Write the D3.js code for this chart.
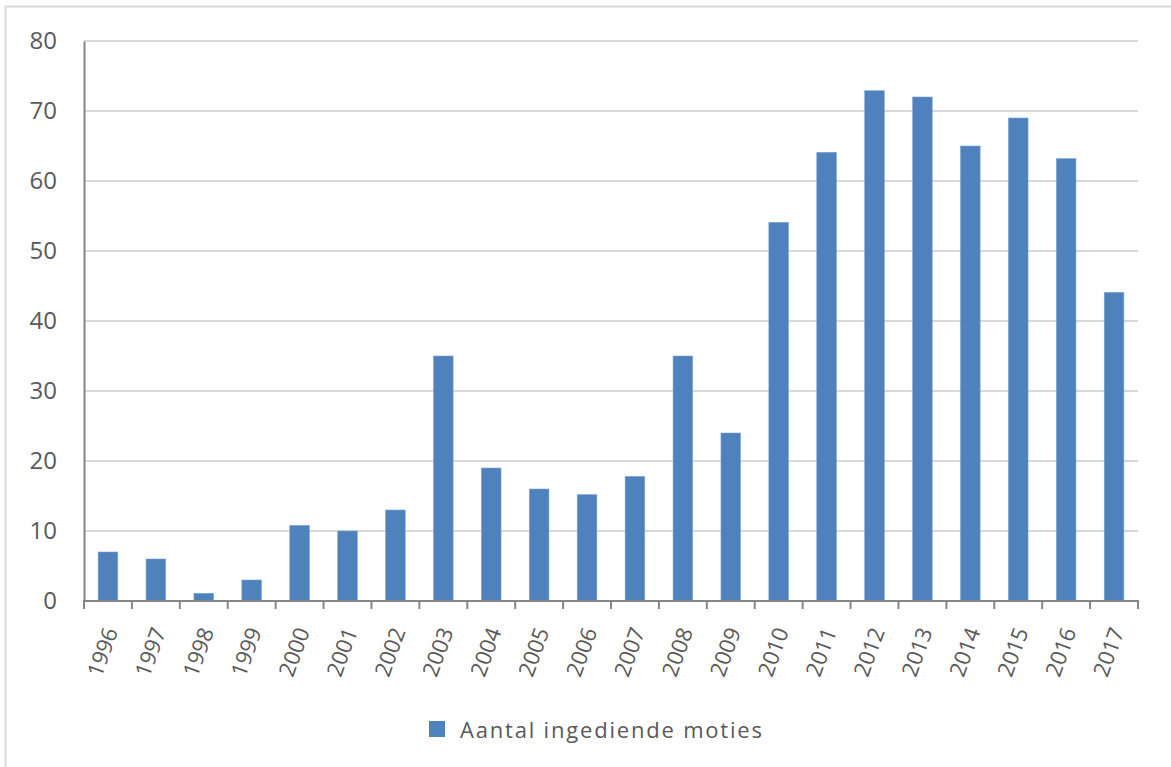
<!DOCTYPE html>
<html><head><meta charset="utf-8">
<script src="https://cdn.jsdelivr.net/npm/d3@7"></script>
<style>
html,body{margin:0;padding:0;background:#fff;}
svg{display:block;}
text{font-family:"Open Sans","Liberation Sans",sans-serif;fill:#595959;}
</style></head>
<body><svg id="c" width="1171" height="767"></svg>
<script>
const years = ["1996","1997","1998","1999","2000","2001","2002","2003","2004","2005","2006","2007","2008","2009","2010","2011","2012","2013","2014","2015","2016","2017"];
const moties = [7,6,1.1,3,10.8,10,13,35,19,16,15.2,17.8,35,24,54.1,64.1,72.9,72,65,69,63.2,44.1];
const yTicks = [0,10,20,30,40,50,60,70,80];
const seriesName = "Aantal ingediende moties";

const svg = d3.select("#c");
const W = 1171, H = 767;
// outer chart border
svg.append("rect").attr("x",5.5).attr("y",6.5).attr("width",W+10).attr("height",H+10)
  .attr("fill","none").attr("stroke","#d9d9d9").attr("stroke-width",2);

const x = d3.scaleBand().domain(years).range([84,1138]).paddingInner(0.59).paddingOuter(0.295);
const y = d3.scaleLinear().domain([0,80]).range([601,41]);

// gridlines
svg.append("g").selectAll("line").data(yTicks.filter(d=>d>0)).join("line")
  .attr("x1",84).attr("x2",1138).attr("y1",d=>y(d)).attr("y2",d=>y(d))
  .attr("stroke","#d9d9d9").attr("stroke-width",2);

// bars
svg.append("g").selectAll("rect").data(years).join("rect")
  .attr("x",d=>x(d)).attr("width",x.bandwidth())
  .attr("y",(d,i)=>y(moties[i])).attr("height",(d,i)=>y(0)-y(moties[i]))
  .attr("fill","#4f81bd").attr("stroke","#7ea6d6").attr("stroke-width",0.6);

// y axis
const yAxis = svg.append("g").attr("transform","translate(84,0)")
  .call(d3.axisLeft(y).tickValues(yTicks).tickSize(0).tickPadding(27));
yAxis.select(".domain").attr("stroke","#868686").attr("stroke-width",2);
yAxis.selectAll("text").attr("font-size",24).attr("fill","#595959")
  .style("font-family","'Open Sans','Liberation Sans',sans-serif");

// x axis line + ticks at band boundaries
const step = x.step();
const xg = svg.append("g");
xg.append("line").attr("x1",84).attr("x2",1138).attr("y1",601).attr("y2",601)
  .attr("stroke","#868686").attr("stroke-width",2);
const boundaries = years.map(d=>x(d)-x.step()*x.paddingInner()/2).concat([1138]);
xg.selectAll("line.t").data(boundaries).join("line").attr("class","t")
  .attr("x1",d=>d).attr("x2",d=>d).attr("y1",600).attr("y2",609)
  .attr("stroke","#868686").attr("stroke-width",2);
xg.selectAll("text").data(years).join("text")
  .attr("transform",d=>`translate(${x(d)+x.bandwidth()/2+2},628) rotate(-70)`)
  .attr("text-anchor","end").attr("dominant-baseline","central")
  .attr("font-size",22).text(d=>d);

// legend
const lg = svg.append("g");
lg.append("rect").attr("x",429).attr("y",721).attr("width",16).attr("height",16).attr("fill","#4f81bd");
lg.append("text").attr("x",460).attr("y",729).attr("dominant-baseline","central")
  .attr("font-size",22).attr("textLength",302).attr("lengthAdjust","spacing").text(seriesName);
</script></body></html>
